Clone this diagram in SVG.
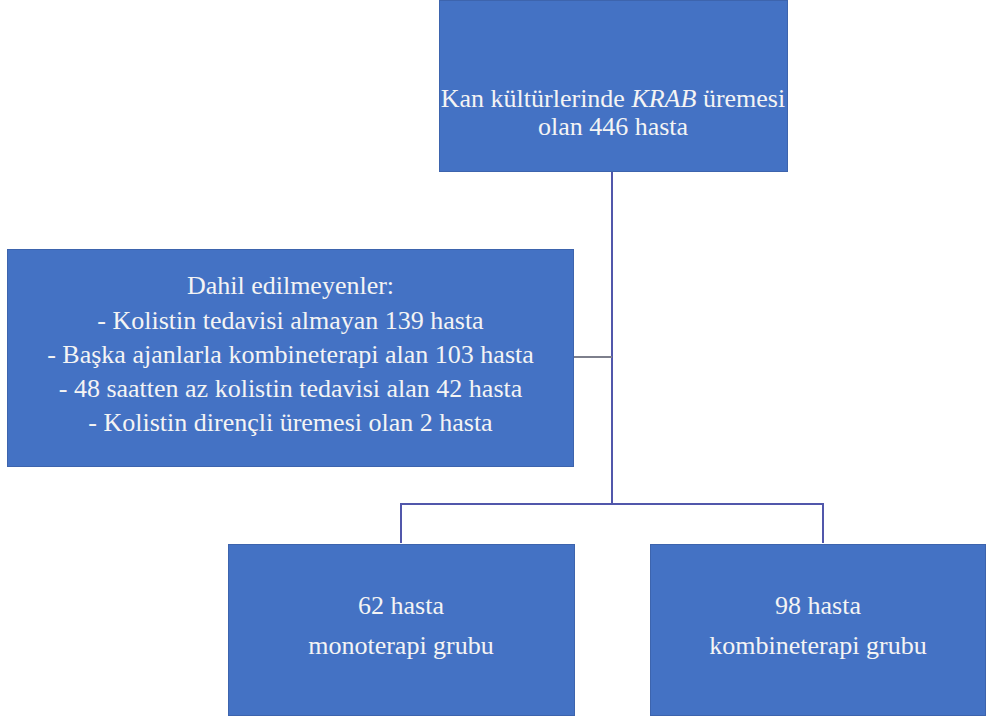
<svg xmlns="http://www.w3.org/2000/svg" width="986" height="719" viewBox="0 0 986 719">
<style>
.box{fill:#4472c4;stroke:#3d64ad;stroke-width:1}
.t{font-family:'Liberation Serif','Times New Roman',serif;font-size:26px;fill:#f4f4f4;text-anchor:middle}
.ln{fill:none;stroke:#5157ab;stroke-width:2}
.lg{fill:none;stroke:#7d7f8c;stroke-width:2}
</style>
<rect width="986" height="719" fill="#ffffff"/>
<g id="connectors">
<path class="ln" d="M612 172 V504"/>
<path class="lg" d="M574 357 H612"/>
<path class="ln" d="M401 543 V504 H823 V543"/>
</g>
<g id="node-top">
<rect class="box" x="439.5" y="0.5" width="348" height="171"/>
<text class="t" x="613" y="107">Kan kültürlerinde <tspan font-style="italic">KRAB</tspan> üremesi</text>
<text class="t" x="613" y="135">olan 446 hasta</text>
</g>
<g id="node-excluded">
<rect class="box" x="7.5" y="249.5" width="566" height="217"/>
<text class="t" x="290.5" y="294">Dahil edilmeyenler:</text>
<text class="t" x="290.5" y="329">- Kolistin tedavisi almayan 139 hasta</text>
<text class="t" x="290.5" y="363">- Başka ajanlarla kombineterapi alan 103 hasta</text>
<text class="t" x="290.5" y="397">- 48 saatten az kolistin tedavisi alan 42 hasta</text>
<text class="t" x="290.5" y="431">- Kolistin dirençli üremesi olan 2 hasta</text>
</g>
<g id="node-mono">
<rect class="box" x="228.5" y="544.5" width="346" height="171"/>
<text class="t" x="401" y="614">62 hasta</text>
<text class="t" x="401" y="654">monoterapi grubu</text>
</g>
<g id="node-combi">
<rect class="box" x="650.5" y="544.5" width="335" height="171"/>
<text class="t" x="818" y="614">98 hasta</text>
<text class="t" x="818" y="654">kombineterapi grubu</text>
</g>
</svg>
